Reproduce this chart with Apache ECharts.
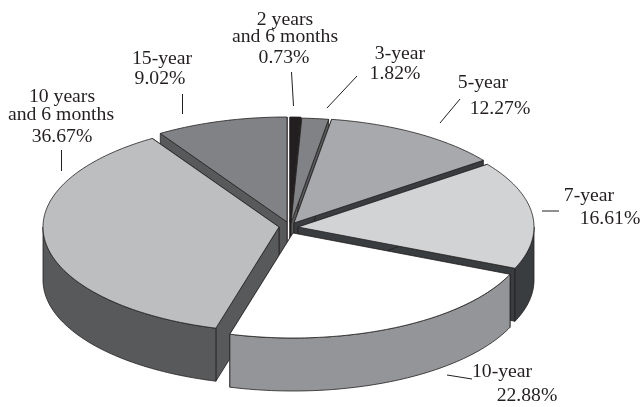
<!DOCTYPE html>
<html>
<head>
<meta charset="utf-8">
<style>html,body{margin:0;padding:0;background:#fff}#c{width:644px;height:407px}</style>
<script src="https://cdn.jsdelivr.net/npm/echarts@6/dist/echarts.min.js"></script>
</head>
<body>
<div id="c"></div>
<script>
// Data, in the pie's clockwise order starting from 12 o'clock
var categories = ['2 years and 6 months', '3-year', '5-year', '7-year', '10-year', '10 years and 6 months', '15-year'];
var shares = [0.73, 1.82, 12.27, 16.61, 22.88, 36.67, 9.02];
var labelNames = [['2 years', 'and 6 months'], ['3-year'], ['5-year'], ['7-year'], ['10-year'], ['10 years', 'and 6 months'], ['15-year']];

// Look of the 3D pie
var topColors = ['#231f20', '#808285', '#a7a9ac', '#d1d3d4', '#ffffff', '#bcbec0', '#808285'];
var wallColors = ['#231f20', '#58595b', '#3a3d40', '#3a3d40', '#939598', '#58595b', '#58595b'];
var apexes = [[290, 222], [291, 223], [294, 223], [298, 227], [293, 233], [279, 227], [287, 222]];
var RX = 236, RY = 105, DEPTH = 53;
var drawOrder = [6, 0, 1, 2, 5, 3, 4];

// Label placement
var nameCentres = [[[285, 20], [285, 37]], [[400, 54]], [[483, 83]], [[589, 196]], [[502, 372]], [[62, 97], [61, 115]], [[162, 59]]];
var shareCentres = [[284, 58], [395, 74], [500, 109], [610, 219], [527, 396], [62, 137], [160, 79]];
var leaders = [[291.5, 72, 293.5, 106], [357, 76, 327, 108], [460, 99, 440, 123], [542, 211, 559, 211], [447, 375, 472, 379], [61.5, 150, 61.5, 171], [182.5, 94, 182.5, 114]];

var INK = '#231f20';
var FONT = '"Liberation Serif", serif';
var total = shares.reduce(function (a, b) { return a + b; }, 0);
var starts = [];
shares.reduce(function (acc, v, i) { starts[i] = acc; return acc + v; }, 0);

function rim(apex, clock) {
  return [apex[0] + RX * Math.sin(clock), apex[1] - RY * Math.cos(clock)];
}
function arc(apex, a0, a1) {
  var pts = [], n = Math.max(2, Math.ceil((a1 - a0) / 0.02));
  for (var i = 0; i <= n; i++) pts.push(rim(apex, a0 + (a1 - a0) * i / n));
  return pts;
}
function down(p) { return [p[0], p[1] + DEPTH]; }
function poly(pts, fill) {
  return { type: 'polygon', shape: { points: pts }, style: { fill: fill, stroke: INK, lineWidth: 0.8, lineJoin: 'round' } };
}

function renderSlice(params, api) {
  var i = api.value(0), share = api.value(1), start = api.value(2);
  var a0 = start / total * 2 * Math.PI, a1 = (start + share) / total * 2 * Math.PI;
  var apex = apexes[i], wall = wallColors[i], kids = [];
  var p0 = rim(apex, a0), p1 = rim(apex, a1);
  kids.push(poly([apex, p1, down(p1), down(apex)], wall));
  kids.push(poly([apex, p0, down(p0), down(apex)], wall));
  var w0 = Math.max(a0, Math.PI / 2), w1 = Math.min(a1, 3 * Math.PI / 2);
  if (w1 > w0) {
    var front = arc(apex, w0, w1);
    kids.push(poly(front.concat(front.slice().reverse().map(down)), wall));
  }
  kids.push(poly([apex].concat(arc(apex, a0, a1)), topColors[i]));
  return { type: 'group', children: kids };
}

var graphics = [];
function addText(str, c) {
  graphics.push({ type: 'text', x: c[0], y: c[1], silent: true,
    style: { text: str, fill: INK, font: '19.7px ' + FONT, align: 'center', verticalAlign: 'middle' } });
}
categories.forEach(function (name, i) {
  labelNames[i].forEach(function (line, j) { addText(line, nameCentres[i][j]); });
  addText(shares[i].toFixed(2) + '%', shareCentres[i]);
  var l = leaders[i];
  graphics.push({ type: 'line', silent: true, shape: { x1: l[0], y1: l[1], x2: l[2], y2: l[3] },
    style: { stroke: INK, lineWidth: 1 } });
});

var chart = echarts.init(document.getElementById('c'), null, { renderer: 'canvas' });
chart.setOption({
  animation: false,
  backgroundColor: '#ffffff',
  graphic: graphics,
  series: [{
    type: 'custom',
    coordinateSystem: 'none',
    silent: true,
    renderItem: renderSlice,
    data: drawOrder.map(function (i) { return [i, shares[i], starts[i], categories[i]]; })
  }]
});
</script>
</body>
</html>
